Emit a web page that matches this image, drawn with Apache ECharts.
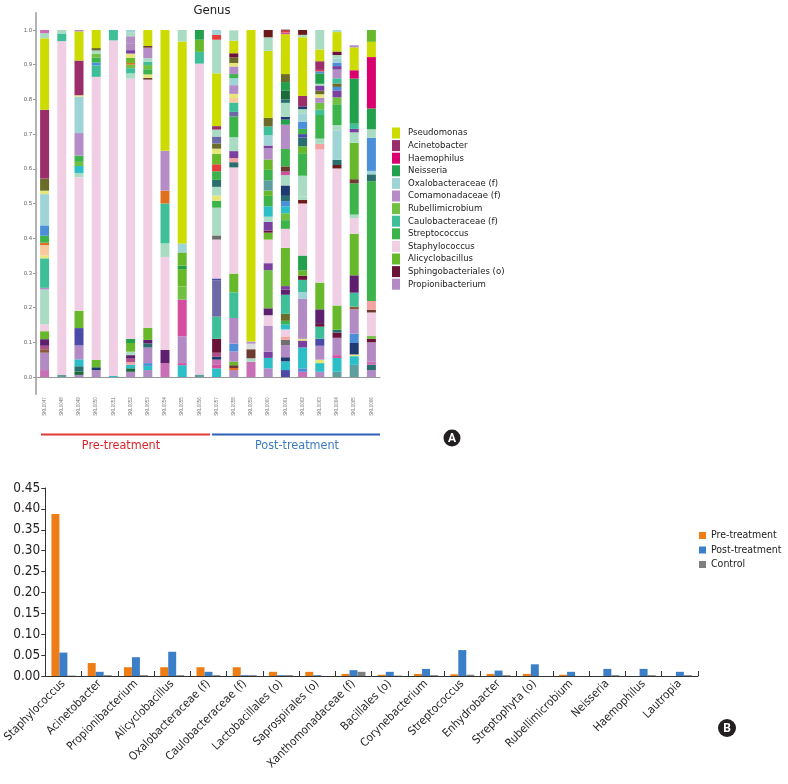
<!DOCTYPE html>
<html><head><meta charset="utf-8">
<script src="https://cdn.jsdelivr.net/npm/echarts@6/dist/echarts.min.js"></script>
<style>html,body{margin:0;padding:0;background:#fff}#c{width:788px;height:784px}</style>
</head><body><div id="c"></div>
<script>
// ---------- Panel A data ----------
const sampleLabels = ['SKL0047','SKL0048','SKL0049','SKL0050','SKL0051','SKL0052','SKL0053','SKL0054','SKL0055','SKL0056',
                      'SKL0057','SKL0058','SKL0059','SKL0060','SKL0061','SKL0062','SKL0063','SKL0064','SKL0065','SKL0066'];
const yTicksA = [0.0,0.1,0.2,0.3,0.4,0.5,0.6,0.7,0.8,0.9,1.0];
// legend taxa: [name, key]
const legendTaxa = [['Pseudomonas','P'],['Acinetobacter','A'],['Haemophilus','H'],['Neisseria','N'],
  ['Oxalobacteraceae (f)','O'],['Comamonadaceae (f)','C'],['Rubellimicrobium','R'],['Caulobacteraceae (f)','K'],
  ['Streptococcus','S'],['Staphylococcus','T'],['Alicyclobacillus','L'],['Sphingobacteriales (o)','G'],['Propionibacterium','B']];
// segments per sample, bottom to top: [taxonKey, relative abundance]
const seg01 = [['p',0.02],['B',0.05],['w',0.01],['u',0.01],['v',0.019],['L',0.023],['T',0.02],['m',0.10],['C',0.005],['K',0.085],['y',0.008],['e',0.03],['o',0.007],['S',0.02],['b',0.03],['O',0.09],['y',0.01],['l',0.035],['A',0.198],['P',0.206],['m',0.015],['p',0.009]];
const seg02 = [['f',0.006],['T',0.962],['K',0.022],['m',0.01]];
const seg03 = [['B',0.006],['d',0.01],['t',0.015],['c',0.02],['B',0.04],['i',0.05],['L',0.05],['T',0.385],['m',0.012],['c',0.02],['R',0.012],['S',0.018],['C',0.065],['O',0.105],['y',0.004],['A',0.1],['P',0.084],['B',0.004]];
const seg04 = [['B',0.02],['n',0.008],['L',0.022],['T',0.815],['K',0.033],['b',0.008],['S',0.015],['R',0.01],['m',0.01],['l',0.007],['P',0.052]];
const seg05 = [['c',0.003],['T',0.967],['K',0.03]];
const seg06 = [['B',0.015],['d',0.01],['c',0.01],['a',0.008],['u',0.01],['v',0.01],['m',0.01],['L',0.025],['N',0.012],['T',0.75],['m',0.015],['K',0.015],['R',0.01],['o',0.005],['L',0.015],['y',0.012],['q',0.01],['B',0.02],['C',0.02],['m',0.01],['O',0.008]];
const seg07 = [['B',0.02],['c',0.012],['b',0.008],['B',0.045],['t',0.012],['v',0.01],['L',0.035],['T',0.715],['j',0.005],['y',0.01],['S',0.015],['R',0.012],['K',0.01],['m',0.01],['C',0.03],['j',0.005],['P',0.046]];
const seg08 = [['p',0.04],['v',0.038],['T',0.268],['m',0.039],['K',0.115],['o',0.037],['C',0.115],['P',0.348]];
const seg09 = [['c',0.034],['h',0.006],['B',0.077],['h',0.106],['R',0.038],['L',0.05],['N',0.01],['L',0.038],['O',0.026],['P',0.582],['m',0.033]];
const seg10 = [['f',0.007],['T',0.896],['K',0.034],['L',0.035],['N',0.028]];
const seg11 = [['c',0.025],['h',0.01],['p',0.015],['n',0.008],['u',0.012],['G',0.04],['K',0.064],['s',0.105],['i',0.005],['T',0.112],['g',0.012],['m',0.08],['S',0.02],['y',0.015],['m',0.025],['t',0.02],['S',0.025],['r',0.02],['L',0.03],['y',0.015],['l',0.015],['s',0.02],['m',0.02],['A',0.01],['P',0.152],['m',0.097],['r',0.014],['O',0.014]];
const seg12 = [['B',0.02],['o',0.006],['j',0.008],['L',0.01],['B',0.03],['b',0.022],['B',0.074],['K',0.074],['L',0.054],['T',0.306],['t',0.015],['a',0.012],['q',0.02],['m',0.04],['S',0.06],['s',0.013],['K',0.027],['e',0.013],['y',0.012],['C',0.025],['O',0.02],['S',0.012],['C',0.022],['y',0.01],['l',0.016],['G',0.012],['P',0.036],['m',0.03]];
const seg13 = [['p',0.044],['m',0.01],['j',0.026],['z',0.016],['C',0.006],['P',0.898]];
const seg14 = [['B',0.025],['c',0.03],['q',0.018],['B',0.075],['T',0.03],['v',0.02],['R',0.11],['q',0.02],['T',0.068],['L',0.02],['G',0.006],['q',0.025],['m',0.015],['c',0.03],['S',0.03],['L',0.015],['f',0.03],['S',0.03],['L',0.03],['C',0.032],['q',0.008],['O',0.03],['K',0.025],['l',0.025],['P',0.193],['m',0.039],['x',0.021]];
const seg15 = [['i',0.02],['c',0.025],['n',0.012],['B',0.035],['g',0.015],['a',0.01],['T',0.02],['c',0.015],['S',0.01],['l',0.02],['K',0.055],['v',0.015],['q',0.01],['L',0.11],['T',0.055],['S',0.025],['R',0.02],['c',0.02],['b',0.015],['t',0.015],['n',0.03],['m',0.03],['h',0.01],['j',0.015],['S',0.05],['C',0.07],['N',0.015],['n',0.008],['m',0.04],['t',0.01],['d',0.026],['N',0.024],['l',0.023],['P',0.115],['h',0.005],['r',0.005],['x',0.003]];
const seg16 = [['p',0.015],['b',0.01],['c',0.06],['q',0.02],['y',0.005],['B',0.115],['O',0.02],['K',0.035],['G',0.012],['L',0.015],['N',0.043],['T',0.15],['x',0.01],['m',0.01],['m',0.06],['S',0.065],['L',0.02],['t',0.025],['i',0.01],['S',0.015],['b',0.02],['O',0.025],['m',0.012],['n',0.008],['A',0.03],['P',0.169],['m',0.007],['x',0.014]];
const seg17 = [['B',0.015],['c',0.025],['y',0.01],['B',0.04],['i',0.02],['K',0.035],['G',0.008],['v',0.042],['L',0.077],['T',0.384],['a',0.016],['m',0.015],['S',0.068],['K',0.015],['R',0.02],['C',0.015],['y',0.01],['l',0.01],['q',0.015],['m',0.005],['N',0.03],['b',0.006],['r',0.004],['A',0.025],['P',0.034],['m',0.056]];
const seg18 = [['f',0.015],['c',0.04],['h',0.008],['B',0.05],['G',0.015],['t',0.008],['L',0.07],['T',0.395],['x',0.01],['t',0.015],['O',0.085],['m',0.015],['S',0.06],['R',0.02],['q',0.02],['b',0.01],['l',0.01],['K',0.015],['C',0.025],['q',0.01],['b',0.01],['O',0.012],['m',0.01],['G',0.01],['P',0.056],['m',0.006]];
const seg19 = [['f',0.035],['c',0.025],['y',0.005],['n',0.033],['b',0.027],['B',0.07],['w',0.008],['K',0.04],['v',0.05],['L',0.12],['T',0.045],['m',0.01],['S',0.09],['j',0.012],['L',0.105],['m',0.03],['q',0.01],['K',0.015],['N',0.13],['H',0.024],['P',0.066],['C',0.006]];
const seg20 = [['B',0.02],['t',0.015],['p',0.01],['B',0.055],['G',0.01],['R',0.008],['T',0.068],['j',0.008],['a',0.025],['S',0.345],['t',0.02],['O',0.01],['b',0.095],['m',0.025],['N',0.06],['H',0.148],['P',0.044],['L',0.034]];
const sampleSegments = [seg01,seg02,seg03,seg04,seg05,seg06,seg07,seg08,seg09,seg10,seg11,seg12,seg13,seg14,seg15,seg16,seg17,seg18,seg19,seg20];

// ---------- Panel B data ----------
const genusB = ['Staphylococcus','Acinetobacter','Propionibacterium','Alicyclobacillus','Oxalobacteraceae (f)','Caulobacteraceae (f)',
  'Lactobacillales (o)','Saprospirales (o)','Xanthomonadaceae (f)','Bacillales (o)','Corynebacterium','Streptococcus',
  'Enhydrobacter','Streptophyta (o)','Rubellimicrobium','Neisseria','Haemophilus','Lautropia'];
const preTreatment  = [0.388,0.031,0.021,0.021,0.021,0.021,0.010,0.010,0.005,0.003,0.005,0.004,0.005,0.005,0.003,0.000,0.000,0.000];
const postTreatment = [0.056,0.010,0.045,0.058,0.010,0.002,0.002,0.002,0.014,0.010,0.017,0.062,0.013,0.028,0.010,0.017,0.017,0.010];
const control       = [0.001,0.002,0.002,0.002,0.002,0.002,0.002,0.000,0.010,0.001,0.002,0.003,0.002,0.000,0.000,0.002,0.002,0.002];
const yTicksB = [0,0.45,0.05];

// ---------- styles ----------
const taxonColors = {
  P:'#cddc00', A:'#9b2d6b', H:'#d8006e', N:'#22a04b', O:'#9fd4d6', C:'#b48cc6', R:'#72c043', K:'#3fbf98',
  S:'#3cb44b', T:'#f0cfe5', L:'#68b82c', G:'#6b1238', B:'#b28ac4',
  m:'#a9dcc2', p:'#c86fb5', v:'#5e1f6e', u:'#b0508a', w:'#8a5a3a', y:'#e6e67a', e:'#f8c99a', o:'#e07020',
  b:'#4a8fd8', c:'#2cbfc8', d:'#1b6b3a', i:'#4b4aa8', s:'#6b6aa5', l:'#6b6b2a', r:'#e63c3c', h:'#d44f9f',
  g:'#6e6e6e', n:'#1e3a70', a:'#f4a3a3', q:'#7b3fa0', x:'#6b1a1a', t:'#2a6e6e', f:'#5e9e9e', j:'#6b3a30', z:'#dcdcdc'
};
const NARROW = "'Liberation Sans Narrow','DejaVu Sans Condensed','Roboto',sans-serif";

const series = [];
const maxLen = Math.max(...sampleSegments.map(s => s.length));
for (let j = 0; j < maxLen; j++) {
  series.push({
    type:'bar', xAxisIndex:0, yAxisIndex:0, stack:'genus', barWidth:9, silent:true,
    data: sampleSegments.map(s => s[j] ? {value:s[j][1], itemStyle:{color:taxonColors[s[j][0]]}} : '-')
  });
}
legendTaxa.forEach(([name,key]) => {
  series.push({type:'bar', name, xAxisIndex:0, yAxisIndex:0, stack:'genus', barWidth:9, data:[], itemStyle:{color:taxonColors[key]}});
});
series.push({type:'bar', name:'Pre-treatment', xAxisIndex:1, yAxisIndex:1, data:preTreatment, itemStyle:{color:'#ed7d14'}, barGap:'0%', barCategoryGap:'34%'});
series.push({type:'bar', name:'Post-treatment', xAxisIndex:1, yAxisIndex:1, data:postTreatment, itemStyle:{color:'#3a7fc8'}, barGap:'0%', barCategoryGap:'34%'});
series.push({type:'bar', name:'Control', xAxisIndex:1, yAxisIndex:1, data:control, itemStyle:{color:'#7f7f7f'}, barGap:'0%', barCategoryGap:'34%'});

const chart = echarts.init(document.getElementById('c'), null, {renderer:'canvas'});
chart.setOption({
  animation:false,
  backgroundColor:'#fff',
  title:{text:'Genus', left:207, top:-1, textAlign:'center', textStyle:{fontSize:13, fontWeight:'normal', color:'#222', fontFamily:NARROW}},
  legend:[
    {data:legendTaxa.map(t=>t[0]), orient:'vertical', left:387, top:122.5, itemWidth:8, itemHeight:11, itemGap:1.6,
     icon:'rect', selectedMode:false, textStyle:{fontSize:9.5, color:'#222', fontFamily:NARROW, padding:[0,0,0,3]}},
    {data:['Pre-treatment','Post-treatment','Control'], orient:'vertical', left:699, top:530, itemWidth:7, itemHeight:7, itemGap:3.5,
     icon:'rect', selectedMode:false, padding:0, textStyle:{fontSize:10.5, color:'#222', fontFamily:NARROW}}
  ],
  grid:[
    {left:36, width:344, top:12.65, height:381.7, containLabel:false},
    {left:43, width:655, top:488, height:188, containLabel:false}
  ],
  xAxis:[
    {type:'category', gridIndex:0, data:sampleLabels,
     axisLine:{lineStyle:{color:'#999', width:1}},
     axisTick:{alignWithLabel:true, length:3, lineStyle:{color:'#999'}},
     axisLabel:{rotate:90, fontSize:4.5, color:'#777', margin:3, interval:0}},
    {type:'category', gridIndex:1, data:genusB,
     axisLine:{lineStyle:{color:'#333', width:1}},
     axisTick:{show:true, inside:true, length:5, interval:0, lineStyle:{color:'#333'}},
     axisLabel:{rotate:45, interval:0, fontSize:11.5, color:'#231f20', margin:6, fontFamily:NARROW}}
  ],
  yAxis:[
    {type:'value', gridIndex:0, min:-0.05, max:1.05,
     axisLine:{show:true, lineStyle:{color:'#999', width:1.5}},
     axisTick:{show:true, length:3, customValues:yTicksA, lineStyle:{color:'#999'}},
     axisLabel:{fontSize:6, color:'#666', margin:4, customValues:yTicksA, formatter:v=>v.toFixed(1)},
     splitLine:{show:false}},
    {type:'value', gridIndex:1, min:yTicksB[0], max:yTicksB[1], interval:yTicksB[2],
     axisLine:{show:true, lineStyle:{color:'#333', width:1}},
     axisTick:{show:true, length:4, lineStyle:{color:'#333'}},
     axisLabel:{fontSize:13.5, color:'#231f20', margin:5, fontFamily:NARROW, formatter:v=>v.toFixed(2)},
     splitLine:{show:false}}
  ],
  graphic:[
    {type:'line', shape:{x1:41, y1:434.5, x2:210, y2:434.5}, style:{stroke:'#e03a3a', lineWidth:2}},
    {type:'line', shape:{x1:212, y1:434.5, x2:380, y2:434.5}, style:{stroke:'#2f5fb3', lineWidth:2}},
    {type:'text', x:121, y:446, style:{text:'Pre-treatment', fill:'#d8232a', fontSize:12.5, fontFamily:NARROW, textAlign:'center', textVerticalAlign:'middle'}},
    {type:'text', x:297, y:446, style:{text:'Post-treatment', fill:'#3a7cc0', fontSize:12.5, fontFamily:NARROW, textAlign:'center', textVerticalAlign:'middle'}},
    {type:'circle', shape:{cx:452, cy:438, r:8.5}, style:{fill:'#231f20'}},
    {type:'text', x:452, y:438.5, style:{text:'A', fill:'#fff', fontSize:12, fontWeight:'bold', fontFamily:'Roboto,sans-serif', textAlign:'center', textVerticalAlign:'middle'}},
    {type:'circle', shape:{cx:727, cy:728, r:9}, style:{fill:'#231f20'}},
    {type:'text', x:727, y:728.5, style:{text:'B', fill:'#fff', fontSize:12, fontWeight:'bold', fontFamily:'Roboto,sans-serif', textAlign:'center', textVerticalAlign:'middle'}}
  ],
  series
});
</script></body></html>
